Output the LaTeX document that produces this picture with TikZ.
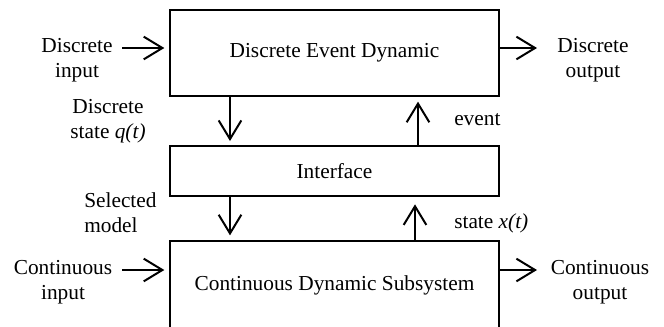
\documentclass[tikz,border=0pt]{standalone}
\usepackage{fontspec}
\setmainfont{Liberation Serif}
\usetikzlibrary{arrows.meta}
\begin{document}
\begin{tikzpicture}[x=0.75pt,y=-0.75pt,
  box/.style={draw,line width=1.5pt,minimum width=246.75pt,inner sep=0pt},
  lbl/.style={inner sep=0pt,align=center},
  arr/.style={line width=1.5pt,-{Straight Barb[length=14pt,width=17pt,line width=1.5pt]}},
  every node/.style={font=\fontsize{16}{19}\selectfont}]
\clip (0,0) rectangle (664,326);
% boxes
\node[box,minimum height=64.5pt] (des) at (334.5,53) {Discrete Event Dynamic};
\node[box,minimum height=37.5pt] (intf) at (334.5,171) {Interface};
\node[box,minimum height=66pt] (cds) at (334.5,285) {Continuous Dynamic Subsystem};
% labels
\node[lbl] (din) at (77,60.5) {Discrete\\input};
\node[lbl] (dout) at (593,60.5) {Discrete\\output};
\node[lbl] (dst) at (108,121.5) {Discrete\\state \textit{q(t)}};
\node[inner sep=0pt,anchor=base west] (ev) at (454,125) {event};
\node[lbl,align=left,anchor=west] (sel) at (84,213) {Selected\\model};
\node[lbl] (cin) at (63,282.5) {Continuous\\input};
\node[lbl] (cout) at (600,282.5) {Continuous\\output};
\node[inner sep=0pt,anchor=base west] (sx) at (454,228) {state \textit{x(t)}};
% coordinates
\coordinate (dinA) at (122,48);
\coordinate (doutA) at (537,48);
\coordinate (cinA) at (122,270);
\coordinate (coutA) at (537,270);
\coordinate (xdown) at (230,0);
\coordinate (xup1) at (418,0);
\coordinate (xup2) at (415,0);
% connectors
\draw[arr,shorten >=3.5pt] (dinA) -- (des.west |- dinA);
\draw[arr] (des.east |- doutA) -- (doutA);
\draw[arr,shorten >=3.5pt] (cinA) -- (cds.west |- cinA);
\draw[arr] (cds.east |- coutA) -- (coutA);
\draw[arr,shorten >=3pt] (des.south -| xdown) -- (intf.north -| xdown);
\draw[arr,shorten >=3.5pt] (intf.north -| xup1) -- (des.south -| xup1);
\draw[arr,shorten >=3.5pt] (intf.south -| xdown) -- (cds.north -| xdown);
\draw[arr,shorten >=5.5pt] (cds.north -| xup2) -- (intf.south -| xup2);
\end{tikzpicture}
\end{document}
